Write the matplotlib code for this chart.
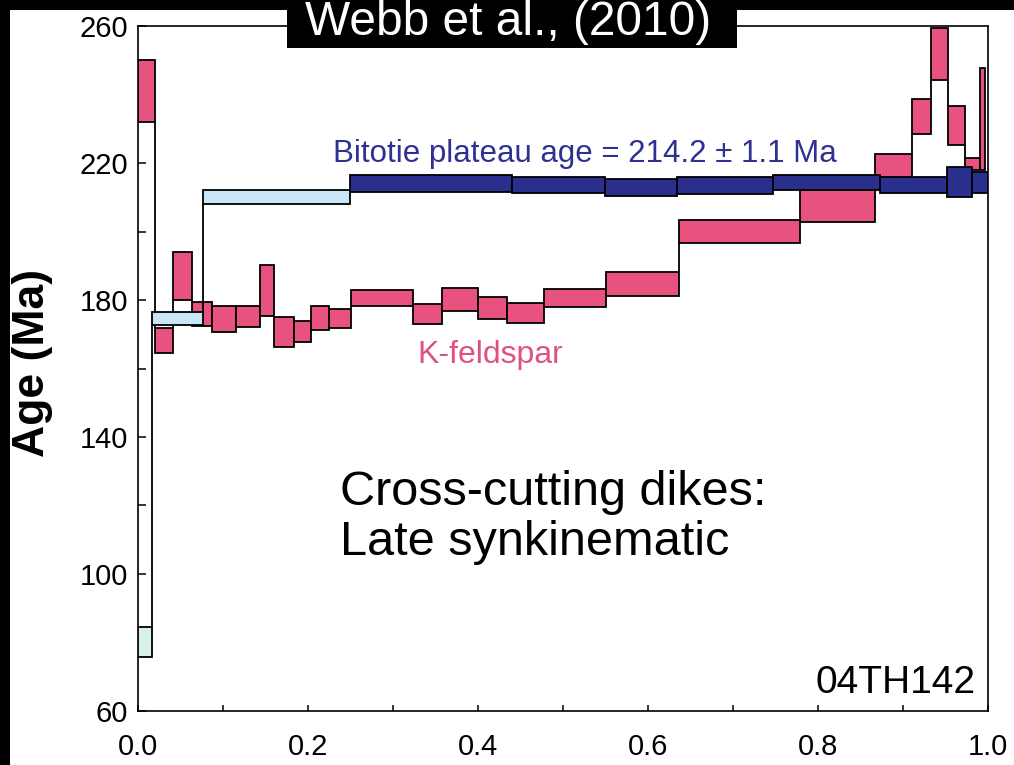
import numpy as np
import matplotlib
matplotlib.use("Agg")
import matplotlib.pyplot as plt
from matplotlib.patches import Rectangle

plt.rcParams['font.family'] = ['Liberation Sans', 'DejaVu Sans']

# ---------------- data ----------------
# Biotite step-heating spectrum (cumulative 39Ar fraction, age, 1-sigma half-height)
bio_edges = [0.0, 0.0165, 0.0765, 0.249, 0.440, 0.549, 0.634, 0.747, 0.873, 0.952, 0.981, 1.0]
bio_age = [80.2, 174.6, 210.0, 214.0, 213.5, 212.8, 213.4, 214.3, 213.5, 214.5, 214.3]
bio_err = [4.4, 1.9, 2.0, 2.5, 2.3, 2.5, 2.5, 2.2, 2.3, 4.4, 3.1]

# K-feldspar step-heating spectrum
kfs_edges = [0.0, 0.020, 0.041, 0.0635, 0.087, 0.115, 0.143, 0.160, 0.183, 0.204,
             0.225, 0.250, 0.323, 0.358, 0.400, 0.434, 0.478, 0.551, 0.636, 0.779,
             0.867, 0.910, 0.933, 0.953, 0.973, 0.991, 0.997]
kfs_age = [241.0, 168.1, 187.0, 175.9, 174.4, 175.1, 182.8, 170.7, 170.8, 174.7,
           174.6, 180.6, 175.9, 180.2, 177.7, 176.2, 180.5, 184.7, 200.0, 207.5,
           219.3, 233.6, 251.8, 231.0, 219.7, 232.8]
kfs_err = [9.0, 3.6, 7.0, 3.6, 3.8, 3.1, 7.4, 4.3, 3.2, 3.5,
           2.9, 2.3, 2.9, 3.3, 3.3, 2.8, 2.6, 3.6, 3.4, 4.6,
           3.3, 5.0, 7.6, 5.7, 1.7, 14.8]

x_ticks = [0.0, 0.2, 0.4, 0.6, 0.8, 1.0]
x_tick_labels = ["0.0", "0.2", "0.4", "0.6", "0.8", "1.0"]
x_minor = [0.1, 0.3, 0.5, 0.7, 0.9]
y_ticks = [60, 100, 140, 180, 220, 260]
y_minor = [80, 120, 160, 200, 240]

# ---------------- styles ----------------
PINK = '#E8527E'
NAVY = '#2A2F8E'
LIGHT = '#C8E6F6'
PALE = '#D8F0EA'
bio_colors = [PALE, LIGHT, LIGHT] + [NAVY] * (len(bio_age) - 3)

W, H = 1014, 765
fig = plt.figure(figsize=(W / 100, H / 100), dpi=100, facecolor='black')
# white panel (behind everything)
fig.patches.append(Rectangle((10 / W, 0), 1 - 10 / W, 1 - 10 / H, transform=fig.transFigure,
                             facecolor='white', edgecolor='none', zorder=-10))

ax = fig.add_axes([138 / W, 1 - 711 / H, 850 / W, 685 / H])
ax.set_zorder(1)
ax.set_facecolor('white')
ax.set_xlim(0, 1)
ax.set_ylim(60, 260)


def draw_spectrum(edges, age, err, colors, z):
    edges = np.asarray(edges, float)
    age = np.asarray(age, float)
    err = np.asarray(err, float)
    lo = age - err
    hi = age + err
    ax.bar(edges[:-1], 2 * err, width=np.diff(edges), bottom=lo, align='edge',
           color=colors, edgecolor='black', linewidth=1.3, zorder=z)
    xs, y0, y1 = [], [], []
    for i in range(len(age) - 1):
        if lo[i] > hi[i + 1]:
            xs.append(edges[i + 1]); y0.append(hi[i + 1]); y1.append(lo[i])
        elif hi[i] < lo[i + 1]:
            xs.append(edges[i + 1]); y0.append(hi[i]); y1.append(lo[i + 1])
    ax.vlines(xs, y0, y1, colors='black', linewidth=1.3, zorder=z - 0.1)


draw_spectrum(kfs_edges, kfs_age, kfs_err, PINK, 2)
draw_spectrum(bio_edges, bio_age, bio_err, bio_colors, 4)

for s in ax.spines.values():
    s.set_linewidth(1.2)
    s.set_color('black')

ax.set_xticks(x_ticks)
ax.set_xticklabels(x_tick_labels)
ax.set_xticks(x_minor, minor=True)
ax.set_yticks(y_ticks)
ax.set_yticks(y_minor, minor=True)
ax.tick_params(axis='y', which='both', direction='in', length=6, width=1.1,
               labelsize=21, pad=7, colors='black')
ax.tick_params(axis='x', which='both', direction='in', length=4.5, width=1.1,
               labelsize=21, pad=16, colors='black')

fig.text(33 / W, 1 - 363 / H, "Age (Ma)", rotation=90, fontsize=32, fontweight='bold',
         ha='center', va='center', color='black')

ax.text(0.229, 220.3, "Bitotie plateau age = 214.2 \u00b1 1.1 Ma", color='#2E3192',
        fontsize=22.5, ha='left', va='baseline', zorder=6)
ax.text(0.414, 163.9, "K-feldspar", color='#E0517C', fontsize=23,
        ha='center', va='center', zorder=6)
ax.text(0.2376, 120.1, "Cross-cutting dikes:", color='black', fontsize=35,
        ha='left', va='baseline', zorder=6)
ax.text(0.2376, 105.5, "Late synkinematic", color='black', fontsize=35,
        ha='left', va='baseline', zorder=6)
ax.text(0.985, 65.3, "04TH142", color='black', fontsize=28,
        ha='right', va='baseline', zorder=6)

# title box (on top of the axes frame)
fig.patches.append(Rectangle((287 / W, 1 - 48 / H), 450 / W, 48 / H, transform=fig.transFigure,
                             facecolor='black', edgecolor='none', zorder=5))
fig.text(508 / W, 1 - 35 / H, "Webb et al., (2010)", color='white', fontsize=34.5,
         ha='center', va='baseline', zorder=6)

fig.savefig("out.png", dpi=100, facecolor=fig.get_facecolor())
